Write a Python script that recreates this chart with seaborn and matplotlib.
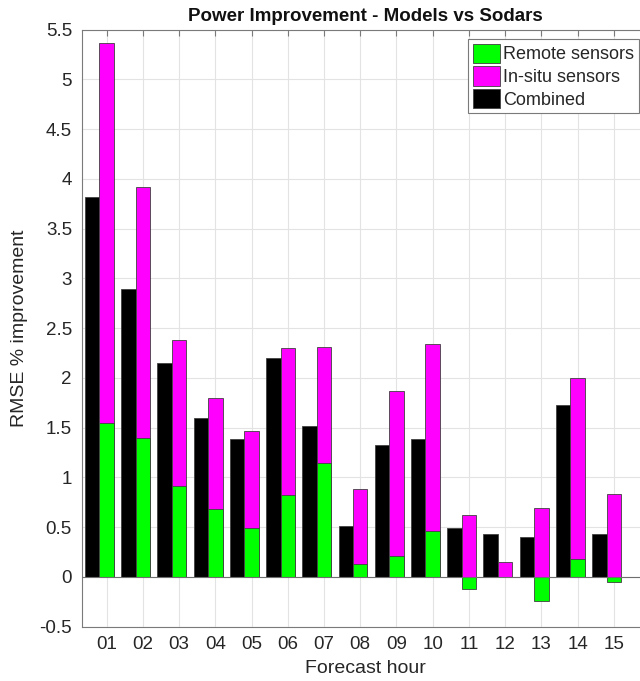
import numpy as np
import pandas as pd
import matplotlib
matplotlib.use("Agg")
import matplotlib.pyplot as plt
import seaborn as sns

hours = np.arange(1, 16)
hour_labels = ["01", "02", "03", "04", "05", "06", "07", "08", "09", "10",
               "11", "12", "13", "14", "15"]
combined = [3.82, 2.89, 2.15, 1.60, 1.39, 2.20, 1.52, 0.51, 1.33, 1.39,
            0.49, 0.43, 0.40, 1.73, 0.43]
insitu = [5.36, 3.92, 2.38, 1.80, 1.47, 2.30, 2.31, 0.88, 1.87, 2.34,
          0.62, 0.155, 0.69, 2.00, 0.83]
remote = [1.55, 1.40, 0.91, 0.68, 0.49, 0.82, 1.14, 0.13, 0.21, 0.46,
          -0.12, 0.0, -0.24, 0.18, -0.05]

sns.set_theme(style="white")
plt.rcParams["font.family"] = ["Liberation Sans", "DejaVu Sans"]

fig = plt.figure(figsize=(6.4, 6.81), dpi=100)
ax = fig.add_axes([81.7 / 640, 1 - 626.7 / 681, (650 - 81.7) / 640, (626.7 - 29.5) / 681])

bar_w = 0.4
edge = dict(edgecolor="#404040", linewidth=0.6, saturation=1, native_scale=True,
            width=bar_w, orient="x", ax=ax, zorder=3)

sns.barplot(x=hours - bar_w, y=combined, color="#000000", label="Combined", **edge)
sns.barplot(x=hours, y=insitu, color="#ff00ff", label="In-situ sensors", **edge)
sns.barplot(x=hours, y=remote, color="#00ff00", label="Remote sensors", **edge)

ax.axhline(0, color="#6e6e6e", linewidth=0.8, zorder=4)

ax.set_xlim(0.31, 16.0)
ax.set_ylim(-0.5, 5.5)
ax.set_xticks(hours)
ax.set_xticklabels(hour_labels)
yt = np.arange(-0.5, 5.51, 0.5)
ax.set_yticks(yt)
ax.set_yticklabels([f"{v:g}" for v in yt])

ax.grid(True, color="#e3e3e3", linewidth=0.8, zorder=0)
ax.set_axisbelow(True)
for s in ax.spines.values():
    s.set_color("#7a7a7a")
    s.set_linewidth(0.8)
ax.tick_params(direction="in", length=4, width=0.8, color="#7a7a7a",
               top=True, right=True, labelsize=13.5, labelcolor="#262626", pad=7)

ax.set_title("Power Improvement - Models vs Sodars", fontsize=13.5,
             fontweight="bold", color="#111111", pad=6)
ax.set_xlabel("Forecast hour", fontsize=14, color="#262626", labelpad=5)
ax.set_ylabel("RMSE % improvement", fontsize=14, color="#262626", labelpad=8)

handles, labels = ax.get_legend_handles_labels()
order = ["Remote sensors", "In-situ sensors", "Combined"]
hmap = dict(zip(labels, handles))
leg = ax.legend([hmap[k] for k in order], order, loc="upper right",
                bbox_to_anchor=(639 / 640, 1 - 39 / 681),
                bbox_transform=fig.transFigure, borderaxespad=0,
                fontsize=13, frameon=True, fancybox=False, framealpha=1,
                edgecolor="#7a7a7a", handlelength=1.5, handleheight=1.3,
                handletextpad=0.2, labelspacing=0.15, borderpad=0.25)
leg.get_frame().set_linewidth(0.8)

fig.savefig("out.png", dpi=100)
